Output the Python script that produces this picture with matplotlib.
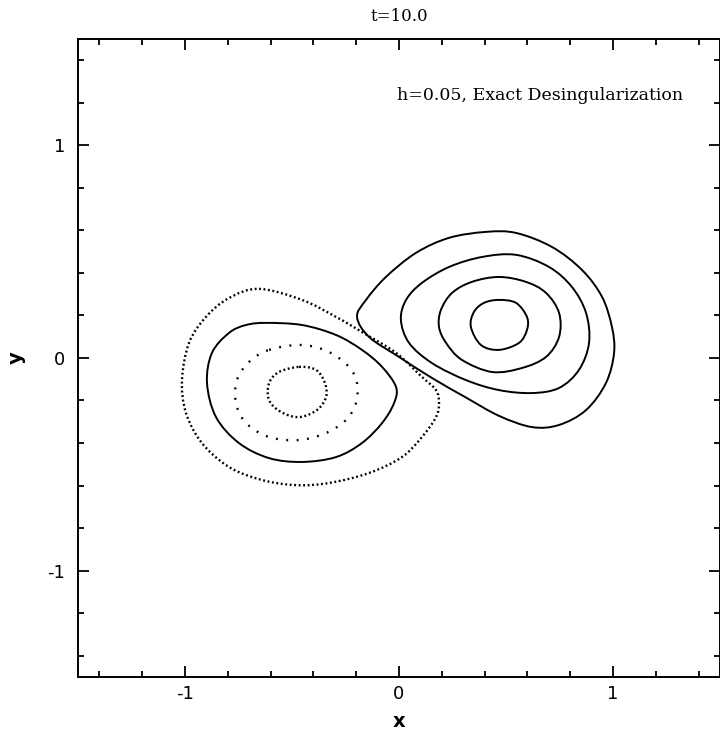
#!/usr/bin/env python3

import numpy as np
import matplotlib
matplotlib.use("Agg")
import matplotlib.pyplot as plt
from matplotlib.path import Path
from matplotlib.patches import PathPatch
from matplotlib.ticker import MultipleLocator

# vorticity contours (x, y), negative vortex (lower left)
neg_outer_x = [-0.654, -0.453, -0.294, -0.173, -0.014, 0.107, 0.173, 0.187, 0.173, 0.107, 0.014,
               -0.140, -0.327, -0.481, -0.640, -0.794, -0.921, -0.995, -1.014, -0.981, -0.902, -0.794]
neg_outer_y = [0.325, 0.273, 0.193, 0.122, 0.024, -0.089, -0.151, -0.212, -0.278, -0.372, -0.466,
               -0.541, -0.588, -0.598, -0.574, -0.513, -0.400, -0.259, -0.104, 0.071, 0.193, 0.282]

neg_mid_x = [-0.621, -0.453, -0.294, -0.173, -0.079, -0.014, -0.023, -0.079, -0.173, -0.294,
             -0.453, -0.607, -0.748, -0.855, -0.897, -0.874, -0.794, -0.715]
neg_mid_y = [0.165, 0.155, 0.108, 0.038, -0.042, -0.136, -0.212, -0.306, -0.400, -0.466,
             -0.489, -0.471, -0.400, -0.278, -0.118, 0.024, 0.118, 0.155]

neg_in_x = [-0.607, -0.453, -0.327, -0.234, -0.196, -0.201, -0.248, -0.341, -0.467, -0.607,
            -0.715, -0.762, -0.757, -0.701]
neg_in_y = [0.038, 0.061, 0.028, -0.042, -0.118, -0.212, -0.292, -0.353, -0.386, -0.372,
            -0.306, -0.212, -0.104, -0.019]

neg_core_x = [-0.467, -0.388, -0.346, -0.341, -0.383, -0.467, -0.551, -0.607, -0.607, -0.561]
neg_core_y = [-0.042, -0.056, -0.118, -0.184, -0.245, -0.278, -0.254, -0.198, -0.118, -0.066]

# positive vortex (upper right)
pos_outer_x = [-0.196, -0.140, 0.000, 0.154, 0.313, 0.467, 0.621, 0.748, 0.874, 0.967, 1.005,
               0.995, 0.949, 0.855, 0.715, 0.547, 0.407, 0.234, 0.079, -0.061, -0.154]
pos_outer_y = [0.193, 0.099, 0.005, -0.094, -0.186, -0.272, -0.325, -0.315, -0.245, -0.118, 0.024,
               0.146, 0.287, 0.414, 0.522, 0.588, 0.593, 0.565, 0.494, 0.381, 0.273]

pos_mid_x = [0.009, 0.047, 0.154, 0.313, 0.467, 0.621, 0.748, 0.841, 0.888, 0.874, 0.808,
             0.701, 0.547, 0.388, 0.234, 0.107, 0.033]
pos_mid_y = [0.179, 0.071, -0.024, -0.104, -0.151, -0.165, -0.141, -0.056, 0.071, 0.212, 0.334,
             0.428, 0.485, 0.475, 0.428, 0.353, 0.273]

pos_in_x = [0.187, 0.220, 0.294, 0.435, 0.575, 0.687, 0.748, 0.748, 0.687, 0.593, 0.467,
            0.341, 0.248, 0.196]
pos_in_y = [0.146, 0.071, -0.009, -0.066, -0.047, 0.005, 0.099, 0.212, 0.306, 0.358, 0.381,
            0.358, 0.306, 0.226]

pos_core_x = [0.467, 0.547, 0.598, 0.598, 0.561, 0.467, 0.383, 0.336, 0.350, 0.397]
pos_core_y = [0.273, 0.259, 0.193, 0.132, 0.071, 0.038, 0.061, 0.146, 0.216, 0.259]


def closed_curve(xs, ys):
    """Closed smooth path through the points (Catmull-Rom as cubic Beziers)."""
    p = np.column_stack([xs, ys])
    n = len(p)
    verts = [p[0]]
    codes = [Path.MOVETO]
    for i in range(n):
        p0, p1, p2, p3 = p[i - 1], p[i], p[(i + 1) % n], p[(i + 2) % n]
        verts += [p1 + (p2 - p0) / 6.0, p2 - (p3 - p1) / 6.0, p2]
        codes += [Path.CURVE4] * 3
    return Path(verts, codes)


plt.rcParams['axes.unicode_minus'] = False

SOLID = "-"
DENSE = (0, (0.8, 1.1))
SPARSE = (0, (0.8, 3.6))

fig = plt.figure(figsize=(7.2, 7.31), dpi=100)
ax = fig.add_axes([0.1083, 0.074, 0.8917, 0.8726])

contours = [
    (neg_outer_x, neg_outer_y, DENSE),
    (neg_mid_x, neg_mid_y, SOLID),
    (neg_in_x, neg_in_y, SPARSE),
    (neg_core_x, neg_core_y, DENSE),
    (pos_outer_x, pos_outer_y, SOLID),
    (pos_mid_x, pos_mid_y, SOLID),
    (pos_in_x, pos_in_y, SOLID),
    (pos_core_x, pos_core_y, SOLID),
]
for xs, ys, ls in contours:
    lw = 1.4 if ls == SOLID else 1.7
    ax.add_patch(PathPatch(closed_curve(xs, ys), fill=False, edgecolor="black",
                           linewidth=lw, linestyle=ls))

ax.set_xlim(-1.5, 1.5)
ax.set_ylim(-1.5, 1.5)

for side in ax.spines.values():
    side.set_linewidth(1.4)

ax.xaxis.set_major_locator(MultipleLocator(1))
ax.xaxis.set_minor_locator(MultipleLocator(0.2))
ax.yaxis.set_major_locator(MultipleLocator(1))
ax.yaxis.set_minor_locator(MultipleLocator(0.2))
ax.tick_params(which="both", direction="in", top=True, right=True, width=1.3)
ax.tick_params(which="major", length=8)
ax.tick_params(which="minor", length=4.5)
ax.tick_params(axis="x", pad=6)
ax.tick_params(axis="y", pad=9)
for lab in ax.get_xticklabels() + ax.get_yticklabels():
    lab.set_fontfamily("DejaVu Sans")
    lab.set_fontsize(13)

ax.set_xlabel("x", fontfamily="DejaVu Sans", fontweight="bold", fontsize=14, labelpad=6)
ax.set_ylabel("y", fontfamily="DejaVu Sans", fontweight="bold", fontsize=14, labelpad=16)
ax.set_title("t=10.0", fontfamily="DejaVu Serif", fontsize=12, pad=13)

ax.text(-0.01, 1.235, "h=0.05, Exact Desingularization", fontfamily="DejaVu Serif",
        fontsize=12.5, ha="left", va="center")

plt.savefig("out.png", dpi=100)
